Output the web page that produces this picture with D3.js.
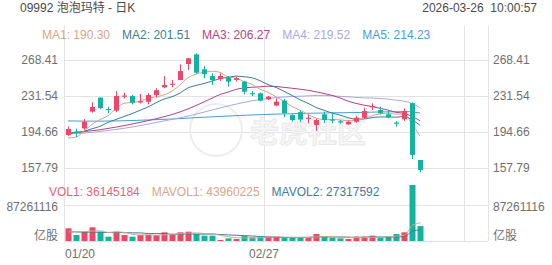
<!DOCTYPE html>
<html><head><meta charset="utf-8">
<script src="https://cdn.jsdelivr.net/npm/d3@7"></script>
<style>
body{margin:0;background:#fff;}
svg{display:block;font-family:"Liberation Sans",Arial,"Noto Sans CJK SC",sans-serif;}
</style></head><body>
<svg id="c" width="552" height="265"></svg>
<script>
// ---------- data ----------
const dates = ["01/20","01/21","01/22","01/23","01/26","01/27","01/28","01/29","01/30","02/02","02/03","02/04","02/05","02/06","02/09","02/10","02/11","02/12","02/13","02/16","02/20","02/23","02/24","02/25","02/26","02/27","03/02","03/03","03/04","03/05","03/06","03/09","03/10","03/11","03/12","03/13","03/16","03/17","03/18","03/19","03/20","03/23","03/24","03/25","03/26"];
const opens  = [191.6,195.2,198.4,215.5,229.8,218.2,216.5,230.9,231.5,224.9,225.7,232.4,240.5,243.4,247.9,264.3,274.2,258.9,252.0,248.9,250.7,248.0,246.2,234.5,234.3,228.1,221.8,226.9,212.0,215.0,208.6,201.8,212.8,207.5,205.6,202.5,205.2,209.3,220.0,217.2,212.8,204.4,207.7,224.1,166.0];
const highs  = [200.3,198.0,207.9,225.1,230.5,220.6,236.6,234.9,232.5,233.6,234.5,239.5,252.0,247.9,264.0,270.5,275.3,262.3,254.8,254.8,252.0,251.0,247.2,236.6,235.2,231.5,229.2,228.5,212.8,217.2,212.0,208.0,215.5,214.0,207.0,206.5,211.4,219.6,224.0,220.6,217.2,206.0,218.9,225.0,166.0];
const lows   = [190.6,189.5,197.0,214.5,218.0,213.8,215.0,229.2,223.0,224.0,223.0,230.0,239.4,240.4,247.6,258.2,254.0,249.7,242.8,247.0,241.1,246.5,233.3,231.5,226.0,227.5,221.0,210.0,205.5,205.0,203.6,195.7,203.7,203.6,203.0,202.0,204.0,208.0,217.2,212.8,208.7,200.1,206.0,167.0,153.4];
const closes = [197.7,194.7,205.2,220.3,219.0,217.2,231.5,232.0,224.7,226.2,232.5,237.5,242.8,244.2,257.1,270.1,255.4,253.8,247.9,252.0,246.2,249.7,235.9,234.0,226.7,230.8,225.7,214.0,206.9,207.5,209.3,207.0,207.0,206.5,205.1,205.2,209.3,216.2,221.2,213.8,209.7,203.6,216.2,171.2,155.8];
// volume in millions of shares
const volumes = [30.8,14.5,22.6,33.2,22.6,10.5,22.6,14.5,10.5,14.5,14.5,14.5,21.0,17.0,21.0,22.6,17.0,12.9,12.9,2.6,6.5,4.8,12.1,9.0,9.0,10.5,10.5,8.0,8.0,8.0,9.0,17.0,10.5,8.0,6.5,4.8,10.5,10.5,12.9,8.0,10.5,17.0,21.0,135.7,36.145184];
const ma1 = [188.5,189.5,195.5,202.5,207.4,211.3,218.6,224.0,224.9,226.3,229.4,230.6,232.7,236.6,242.8,250.3,253.9,256.1,256.9,255.8,251.1,249.9,246.3,243.6,238.5,235.4,230.6,226.2,220.8,217.0,212.7,208.9,207.5,207.5,207.0,206.2,206.6,208.5,211.4,213.1,214.0,212.9,212.9,202.9,190.3];
const ma2 = [193.5,194.0,195.5,198.0,200.5,204.5,207.5,210.5,213.5,216.9,220.3,224.6,228.4,230.8,234.6,239.9,242.3,244.4,246.8,249.3,250.7,251.9,251.2,250.2,247.2,243.2,240.3,236.3,232.2,227.7,224.1,219.8,216.9,214.1,212.0,209.4,207.8,208.0,209.4,210.1,210.1,209.8,210.7,207.2,201.51];
const ma3 = [193.5,194.2,195.0,196.0,197.0,198.3,199.7,201.2,202.8,204.5,206.3,208.2,210.3,212.6,215.2,218.3,221.8,225.5,229.3,233.1,235.5,238.3,239.8,240.5,240.9,241.6,241.3,240.4,239.5,238.5,237.4,235.9,234.1,232.2,229.6,226.3,224.0,222.1,220.8,218.9,217.1,214.8,213.8,210.6,206.27];
const ma4 = [192.5,193.0,193.5,194.3,195.2,196.2,197.3,198.5,199.8,201.2,202.8,204.4,206.0,207.6,209.2,211.0,213.0,215.0,217.2,219.3,221.3,223.2,225.0,226.6,227.9,229.0,229.9,230.5,231.0,231.3,231.7,232.1,232.2,231.7,231.2,230.8,230.1,229.6,229.5,229.0,228.3,227.2,226.3,223.8,219.52];
const ma5 = [206.0,205.9,205.8,205.8,205.8,205.9,206.0,206.2,206.4,206.7,207.0,207.3,207.6,208.0,208.4,208.9,209.4,209.8,210.2,210.6,211.0,211.4,211.8,212.1,212.4,212.7,213.0,213.2,213.4,213.6,213.8,214.0,214.1,214.3,214.4,214.5,214.6,214.8,215.0,215.2,215.3,215.4,215.6,215.2,214.23];
const mavol1 = [22,22.5,23,24,24.7,20.7,22.3,20.7,16.1,14.5,15.3,13.7,15,16.3,17.6,19.2,19.7,18.1,17.3,13.6,10.4,7.9,7.8,7,8.3,9.1,10.2,9.4,9.2,9,8.7,10,10.5,10.5,10.2,9.4,8.1,8.1,9,9.3,10.5,11.8,13.9,38.4,43.960225];
const mavol2 = [22,22,21.5,21.5,21,20.5,20.5,20,19.8,19.6,18,18,17.8,16.2,16.1,17.3,16.7,16.6,16.8,15.6,14.8,13.8,12.9,12.1,10.9,9.7,9.1,8.6,8.1,8.6,8.9,10.1,10,9.9,9.6,9,9,9.3,9.8,9.8,9.9,9.9,11,23.7,27.317592];
const priceTicks = [157.79,194.66,231.54,268.41];
const volTickValue = 87261116;
const volTickLabel = "87261116";
const volUnitLabel = "亿股";
const xTickLabels = ["01/20","02/27"];
const maLegend = [["MA1","190.30"],["MA2","201.51"],["MA3","206.27"],["MA4","219.52"],["MA5","214.23"]];
const volLegend = [["VOL1","36145184"],["MAVOL1","43960225"],["MAVOL2","27317592"]];
const title = "09992 泡泡玛特 - 日K";
const stamp = "2026-03-26  10:00:57";
const slots = 50;

// ---------- styles ----------
const UP="#ef4566", DOWN="#13b3a0";
const maColors=["#d5a688","#3c7d99","#b4437f","#a8a8e8","#45a0d2"];
const volColors=["#ec5f78","#d5a688","#3c7d99"];
const grid="#e3e3e3", axisText="#6f6f6f";

const svg=d3.select("#c");
const X=d3.scaleLinear().domain([-0.5,slots-0.5]).range([64,464]);
const Y=d3.scaleLinear().domain([priceTicks[0],priceTicks[3]]).range([168,60]);
const V=d3.scaleLinear().domain([0,volTickValue*1e-6]).range([241,205]);
const n=dates.length;

// grid
const gG=svg.append("g").attr("stroke",grid).attr("stroke-width",1);
const vx=[X(-0.5), X(dates.indexOf(xTickLabels[1])-0.5), X(slots-0.5), 488];
vx.forEach(x=>gG.append("line").attr("x1",x+0.5).attr("x2",x+0.5).attr("y1",26).attr("y2",241));
priceTicks.forEach(v=>gG.append("line").attr("x1",64).attr("x2",488).attr("y1",Math.round(Y(v))+0.5).attr("y2",Math.round(Y(v))+0.5));
[volTickValue*1e-6,0].forEach(v=>gG.append("line").attr("x1",64).attr("x2",488).attr("y1",Math.round(V(v))+0.5).attr("y2",Math.round(V(v))+0.5));

// watermark
const wm=svg.append("g").attr("opacity",0.9);
wm.append("circle").attr("cx",216).attr("cy",130).attr("r",26).attr("fill","none").attr("stroke","#ececec").attr("stroke-width",2);
wm.append("text").attr("x",250).attr("y",143).attr("font-size",29).attr("font-weight","bold")
  .attr("font-family","'Noto Sans CJK SC',sans-serif").attr("fill","#f6f6f6").attr("stroke","#e6e6e6").attr("stroke-width",0.8).text("老虎社区");

// header
svg.append("text").attr("x",20).attr("y",12).attr("font-size",12).attr("fill","#4a4a4a").text(title);
svg.append("text").attr("x",537).attr("y",12).attr("font-size",12).attr("fill","#4a4a4a").attr("text-anchor","end").style("white-space","pre").text(stamp);

// legends
function legend(items,colors,x0,y){
  let x=x0;
  items.forEach((d,i)=>{
    const t=svg.append("text").attr("x",x).attr("y",y).attr("font-size",12).attr("fill",colors[i]).text(d[0]+": "+d[1]);
    x+=t.node().getComputedTextLength()+12;
  });
}
legend(maLegend,maColors,42,39);
legend(volLegend,volColors,49,196);

// axis labels
const lab=svg.append("g").attr("font-size",12).attr("fill",axisText);
priceTicks.forEach(v=>{
  lab.append("text").attr("x",58).attr("y",Y(v)).attr("dy","0.35em").attr("text-anchor","end").text(v.toFixed(2));
  lab.append("text").attr("x",493).attr("y",Y(v)).attr("dy","0.35em").text(v.toFixed(2));
});
lab.append("text").attr("x",58).attr("y",V(volTickValue*1e-6)+2).attr("dy","0.35em").attr("text-anchor","end").text(volTickLabel);
lab.append("text").attr("x",493).attr("y",V(volTickValue*1e-6)+2).attr("dy","0.35em").text(volTickLabel);
lab.append("text").attr("x",58).attr("y",V(0)-5).attr("dy","0.35em").attr("text-anchor","end").text(volUnitLabel);
lab.append("text").attr("x",493).attr("y",V(0)-5).attr("dy","0.35em").text(volUnitLabel);
xTickLabels.forEach((s,k)=>{
  const i=dates.indexOf(s);
  lab.append("text").attr("x",k===0?X(i-0.5)+1:X(i-0.5)).attr("y",258).attr("text-anchor",k===0?"start":"middle").text(s);
});

// MA lines
const line=d3.line().x((d,i)=>X(i)).y(d=>Y(d)).curve(d3.curveMonotoneX);
[ma5,ma4,ma3,ma2,ma1].forEach((arr,k)=>{
  svg.append("path").attr("d",line(arr)).attr("fill","none").attr("stroke",maColors[4-k]).attr("stroke-width",1);
});

// candles
const idx=d3.range(n);
const col=i=>closes[i]>=opens[i]?UP:DOWN;
const cg=svg.append("g");
cg.selectAll("rect.w").data(idx).join("rect").attr("class","w")
  .attr("x",i=>X(i)).attr("width",1)
  .attr("y",i=>Y(highs[i])).attr("height",i=>Math.max(1,Y(lows[i])-Y(highs[i])))
  .attr("fill",col);
cg.selectAll("rect.b").data(idx).join("rect").attr("class","b")
  .attr("x",i=>X(i)-2).attr("width",5)
  .attr("y",i=>Y(Math.max(opens[i],closes[i])))
  .attr("height",i=>Math.max(1.2,Math.abs(Y(opens[i])-Y(closes[i]))))
  .attr("fill",col);

// volume bars
svg.append("g").selectAll("rect").data(idx).join("rect")
  .attr("x",i=>X(i)-2.5).attr("width",6)
  .attr("y",i=>V(volumes[i])).attr("height",i=>V(0)-V(volumes[i]))
  .attr("fill",col);
const vline=d3.line().x((d,i)=>X(i)+0.5).y(d=>V(d)).curve(d3.curveMonotoneX);
svg.append("path").attr("d",vline(mavol2)).attr("fill","none").attr("stroke",volColors[2]).attr("stroke-width",1);
svg.append("path").attr("d",vline(mavol1)).attr("fill","none").attr("stroke",volColors[1]).attr("stroke-width",1);
</script>
</body></html>
